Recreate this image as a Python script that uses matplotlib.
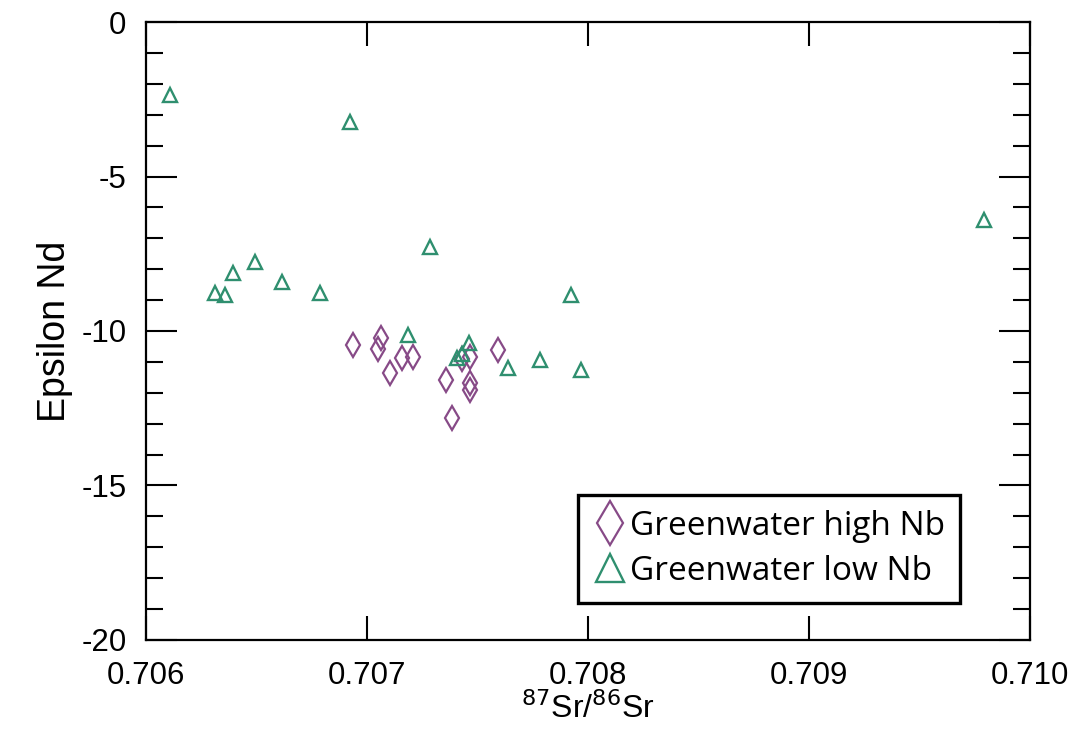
import matplotlib
matplotlib.use("Agg")
import matplotlib.pyplot as plt
from matplotlib import font_manager
from matplotlib.ticker import MultipleLocator

# --- data --------------------------------------------------------------------
high_nb_sr = [0.706937, 0.707063, 0.707050, 0.707158, 0.707208, 0.707104,
              0.707430, 0.707466, 0.707593, 0.707357, 0.707466, 0.707466,
              0.707385]
high_nb_nd = [-10.45, -10.23, -10.58, -10.87, -10.84, -11.36,
              -10.90, -10.84, -10.61, -11.59, -11.68, -11.90,
              -12.82]

low_nb_sr = [0.706109, 0.706923, 0.709792, 0.707285, 0.706493, 0.706394,
             0.706615, 0.706312, 0.706357, 0.706787, 0.707923, 0.707186,
             0.707462, 0.707407, 0.707430, 0.707638, 0.707783, 0.707968]
low_nb_nd = [-2.36, -3.24, -6.41, -7.28, -7.77, -8.12,
             -8.41, -8.77, -8.83, -8.77, -8.83, -10.13,
             -10.39, -10.87, -10.75, -11.20, -10.94, -11.26]

x_ticks = [0.706, 0.707, 0.708, 0.709, 0.710]
x_ticklabels = ["0.706", "0.707", "0.708", "0.709", "0.710"]
y_ticks = [0, -5, -10, -15, -20]

PURPLE, GREEN = "#874a87", "#2f8f6f"

names = {f.name for f in font_manager.fontManager.ttflist}
narrow = "Liberation Sans Narrow" if "Liberation Sans Narrow" in names else "Liberation Sans"
tick_size = 25 if narrow == "Liberation Sans Narrow" else 22.5

plt.rcParams["font.family"] = ["Liberation Sans", "DejaVu Sans"]

fig = plt.figure(figsize=(10.76, 7.38), dpi=100)
ax = fig.add_axes([0.1357, 0.133, 0.8215, 0.837])

ax.plot(high_nb_sr, high_nb_nd, ls="none", marker="d", ms=12, mfc="none",
        mec=PURPLE, mew=1.6, label="Greenwater high Nb")
ax.plot(low_nb_sr, low_nb_nd, ls="none", marker="^", ms=10.5, mfc="none",
        mec=GREEN, mew=1.7, label="Greenwater low Nb")

ax.set_xlim(0.706, 0.710)
ax.set_ylim(-20, 0)
ax.set_xticks(x_ticks)
ax.set_xticklabels(x_ticklabels, family=narrow, fontsize=tick_size)
ax.set_yticks(y_ticks)
ax.set_yticklabels([str(v) for v in y_ticks], family=narrow, fontsize=tick_size)
ax.yaxis.set_minor_locator(MultipleLocator(1))

ax.tick_params(which="both", direction="in", top=True, right=True,
               color="black", width=1.5)
ax.tick_params(axis="x", which="major", length=17, pad=15)
ax.tick_params(axis="y", which="major", length=22, pad=14)
ax.tick_params(axis="y", which="minor", length=12)
for s in ax.spines.values():
    s.set_linewidth(1.6)

ax.set_xlabel(r"$^{87}$Sr/$^{86}$Sr", fontsize=23, labelpad=1)
ax.set_ylabel("Epsilon Nd", fontsize=27, labelpad=6)

leg = ax.legend(loc="lower right", bbox_to_anchor=(0.921, 0.060),
                prop={"family": ["Open Sans", "DejaVu Sans"], "size": 24},
                markerscale=1.9, handletextpad=0.1, handlelength=1.0,
                borderpad=0.45, labelspacing=0.35, fancybox=False,
                framealpha=1, edgecolor="black", borderaxespad=0)
leg.get_frame().set_linewidth(2.4)

fig.savefig("out.png", dpi=100)
